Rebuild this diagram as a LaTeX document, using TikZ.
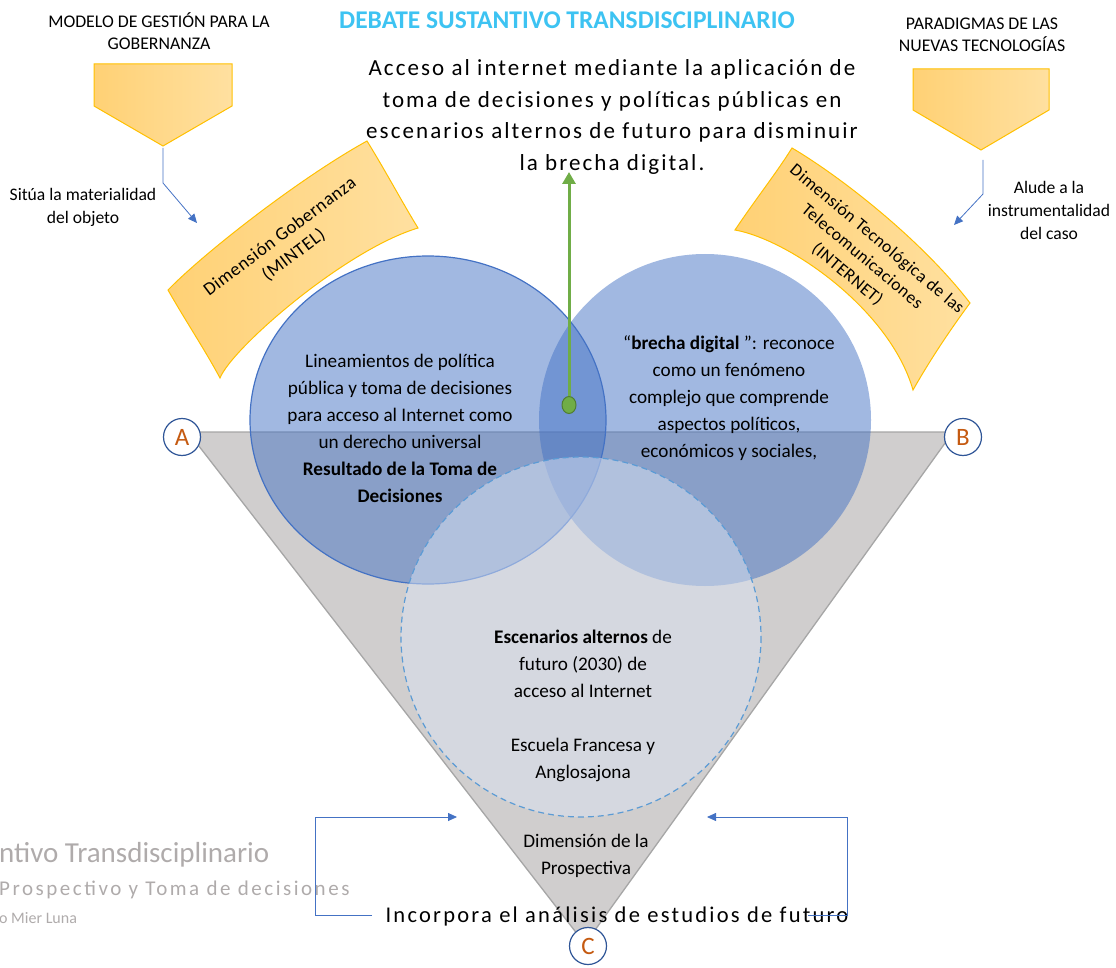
\documentclass[tikz,border=0pt]{standalone}
\usepackage{fontspec}
\setmainfont{Carlito}
\usetikzlibrary{arrows.meta,shapes.geometric}
\definecolor{blueC}{HTML}{4472C4}
\definecolor{lightC}{HTML}{DAE3F3}
\definecolor{dashC}{HTML}{5B9BD5}
\definecolor{triC}{HTML}{D0CECE}
\definecolor{triL}{HTML}{A6A6A6}
\definecolor{orL}{HTML}{FFD175}
\definecolor{orR}{HTML}{FFE0A0}
\definecolor{orB}{HTML}{FFC000}
\definecolor{greenC}{HTML}{70AD47}
\definecolor{greenD}{HTML}{507E32}
\definecolor{titleC}{HTML}{3DC3F2}
\definecolor{letC}{HTML}{C55A11}
\definecolor{ringC}{HTML}{2F5597}
\definecolor{fadeC}{HTML}{AFABAB}
\tikzset{
  orshape/.style={left color=orL, right color=orR, draw=orB, line width=1pt},
  conn/.style={draw=blueC, line width=0.8pt},
  connarrow/.style={conn, -{Triangle[length=9pt,width=8pt]}},
  body/.style={align=center, font=\fontsize{19.2}{27}\selectfont, inner sep=0pt},
  small/.style={align=center, font=\fontsize{17.6}{23}\selectfont, inner sep=0pt},
  caps/.style={align=center, font=\fontsize{17.8}{22.5}\selectfont, inner sep=0pt},
  bigtext/.style={align=center, font=\fontsize{23}{31.7}\selectfont\addfontfeatures{LetterSpace=9}, inner sep=0pt},
  letter/.style={circle, draw=ringC, line width=1.2pt, fill=white, minimum size=37pt, inner sep=0pt, text=letC, font=\fontsize{25}{25}\selectfont},
  bantext/.style={align=center, font=\fontsize{18.5}{23}\selectfont\addfontfeatures{LetterSpace=3}, inner sep=0pt},
}
\begin{document}
\begin{tikzpicture}[x=1pt,y=-1pt]
\useasboundingbox (0,0) rectangle (1116,968);
% triangle
\coordinate (tA) at (188,432);
\coordinate (tB) at (953,432);
\coordinate (tC) at (585,944);
\draw[fill=triC, draw=triL, line width=1.3pt] (tA) -- (tB) -- (tC) -- cycle;
% circles
\fill[blueC, fill opacity=0.5] (428,420) ellipse [x radius=178, y radius=164];
\draw[blueC, line width=1.2pt] (428,420) ellipse [x radius=178, y radius=164];
\fill[blueC, fill opacity=0.5] (705,420) circle [radius=166];
\draw[fill=lightC, fill opacity=0.5, draw=dashC, line width=1.2pt, dash pattern=on 6pt off 4pt] (581,637) circle [radius=180];
% pentagons
\draw[orshape] (94,64) -- (232,64) -- (232,106) -- (163,146) -- (94,106) -- cycle;
\draw[orshape] (913,69) -- (1049,69) -- (1049,110) -- (981,150) -- (913,110) -- cycle;
% banners
\draw[orshape] (168,290) .. controls (205,252) and (300,178) .. (367,141)
  .. controls (385,170) and (402,202) .. (418,228)
  .. controls (345,250) and (232,348) .. (220,378)
  .. controls (205,350) and (185,320) .. cycle;
\draw[orshape] (792,148) .. controls (838,175) and (920,238) .. (970,303)
  .. controls (950,330) and (930,360) .. (913,390)
  .. controls (890,310) and (790,240) .. (735,230)
  .. controls (755,200) and (775,175) .. cycle;
\node[bantext, rotate=37] (gob) at (287,246) {Dimensión Gobernanza\\(MINTEL)};
\node[bantext, font=\fontsize{17.6}{23}\selectfont\addfontfeatures{LetterSpace=3}, rotate=-40] (tec) at (862,257) {Dimensión Tecnológica de las\\Telecomunicaciones\\(INTERNET)};
% top texts
\node[caps] (modelo) at (159,31) {MODELO DE GESTIÓN PARA LA\\GOBERNANZA};
\node[caps] (paradigmas) at (982,35) {PARADIGMAS DE LAS\\NUEVAS TECNOLOGÍAS};
\node[font=\fontsize{25.5}{26}\selectfont\bfseries, text=titleC, inner sep=0pt] (debate) at (567,20) {DEBATE SUSTANTIVO TRANSDISCIPLINARIO};
\node[bigtext] (acceso) at (612,117) {Acceso al internet mediante la aplicación de\\toma de decisiones y políticas públicas en\\escenarios alternos de futuro para disminuir\\la brecha digital.};
\node[small] (situa) at (83,207) {Sitúa la materialidad\\del objeto};
\node[small] (alude) at (1049,210) {Alude a la\\instrumentalidad\\del caso};
% connectors from pentagons
\coordinate (lp) at (163,148);
\coordinate (lm) at (163,183);
\coordinate (le) at (197,223);
\draw[connarrow] (lp) -- (lm) -- (le);
\coordinate (rp) at (983,160);
\coordinate (rm) at (983,194);
\coordinate (re) at (954,225);
\draw[connarrow] (rp) -- (rm) -- (re);
% circle texts
\node[body] (ltext) at (400,428) {Lineamientos de política\\pública y toma de decisiones\\para acceso al Internet como\\un derecho universal\\\textbf{Resultado de la Toma de}\\\textbf{Decisiones}};
\node[body] (rtext) at (729,398) {“\textbf{brecha digital }”: reconoce\\como un fenómeno\\complejo que comprende\\aspectos políticos,\\económicos y sociales,};
\node[body] (btext) at (583,706) {\textbf{Escenarios alternos} de\\futuro (2030) de\\acceso al Internet\\[27pt]Escuela Francesa y\\Anglosajona};
\node[body] (prosp) at (586,856) {Dimensión de la\\Prospectiva};
% green arrow
\node[ellipse, draw=greenD, fill=greenC, line width=1pt, minimum width=14pt, minimum height=17pt, inner sep=0pt] (dot) at (569,405) {};
\coordinate (gtop) at (569,172);
\draw[greenC, line width=3pt, -{Triangle[length=12pt,width=13pt]}] (dot.north) -- (gtop);
% letters
\node[letter] (A) at (182,437) {A};
\node[letter] (B) at (963,437) {B};
\node[letter] (C) at (588,946) {C};
% bottom text and connectors
\node[font=\fontsize{22.5}{23}\selectfont\addfontfeatures{LetterSpace=10}, inner sep=0pt] (incorpora) at (617,916) {Incorpora el análisis de estudios de futuro};
\coordinate (bl1) at (372,915);
\coordinate (bl2) at (315,915);
\coordinate (bl3) at (315,817);
\coordinate (bl4) at (457,817);
\draw[connarrow] (bl1) -- (bl2) -- (bl3) -- (bl4);
\coordinate (br1) at (808,915);
\coordinate (br2) at (847,915);
\coordinate (br3) at (847,817);
\coordinate (br4) at (707,817);
\draw[connarrow] (br1) -- (br2) -- (br3) -- (br4);
% faded footer text
\node[anchor=west, text=fadeC, font=\fontsize{29}{30}\selectfont, inner sep=0pt] (f1) at (-1,855) {ntivo Transdisciplinario};
\node[anchor=west, text=fadeC, font=\fontsize{21}{22}\selectfont\addfontfeatures{LetterSpace=12}, inner sep=0pt] (f2) at (-1,890) {Prospectivo y Toma de decisiones};
\node[anchor=west, text=fadeC, font=\fontsize{16}{17}\selectfont, inner sep=0pt] (f3) at (-1,918) {o Mier Luna};
\end{tikzpicture}
\end{document}
